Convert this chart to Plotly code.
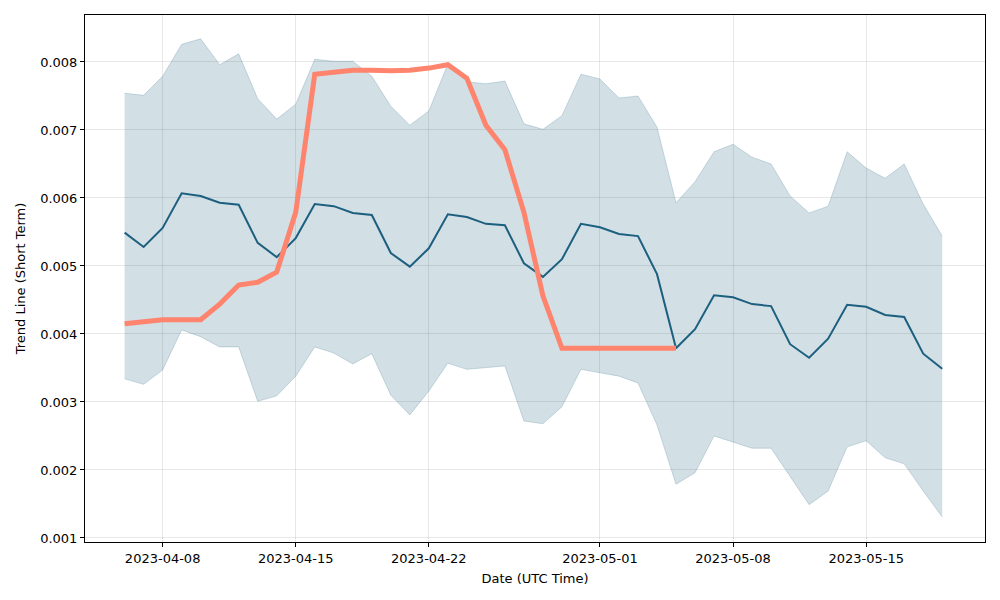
import plotly.graph_objects as go
import pandas as pd

dates = pd.date_range("2023-04-06", "2023-05-19", freq="D")

trend = [0.00549, 0.00528, 0.00556, 0.00607, 0.00603, 0.00593, 0.00590, 0.00534, 0.00513, 0.00541,
         0.00591, 0.00588, 0.00578, 0.00575, 0.00519, 0.00499, 0.00526, 0.00576, 0.00572, 0.00562,
         0.00560, 0.00504, 0.00484, 0.00510, 0.00562, 0.00557, 0.00547, 0.00544, 0.00488, 0.00379,
         0.00407, 0.00457, 0.00454, 0.00444, 0.00441, 0.00385, 0.00365, 0.00393, 0.00443, 0.00440,
         0.00428, 0.00425, 0.00371, 0.00349]

upper = [0.00754, 0.00751, 0.00779, 0.00826, 0.00834, 0.00796, 0.00812, 0.00746, 0.00716, 0.00738,
         0.00804, 0.00801, 0.00801, 0.00779, 0.00735, 0.00707, 0.00728, 0.00797, 0.00771, 0.00768,
         0.00772, 0.00709, 0.00701, 0.00721, 0.00782, 0.00775, 0.00747, 0.00750, 0.00704, 0.00593,
         0.00624, 0.00668, 0.00679, 0.00660, 0.00650, 0.00603, 0.00578, 0.00588, 0.00668, 0.00644,
         0.00629, 0.00650, 0.00591, 0.00544]

lower = [0.00334, 0.00326, 0.00347, 0.00406, 0.00396, 0.00381, 0.00381, 0.00301, 0.00309, 0.00338,
         0.00381, 0.00372, 0.00356, 0.00371, 0.00310, 0.00281, 0.00316, 0.00357, 0.00348, 0.00351,
         0.00353, 0.00272, 0.00268, 0.00293, 0.00348, 0.00343, 0.00338, 0.00328, 0.00266, 0.00179,
         0.00196, 0.00250, 0.00241, 0.00232, 0.00232, 0.00191, 0.00149, 0.00169, 0.00234, 0.00243,
         0.00218, 0.00209, 0.00169, 0.00131]

price_dates = pd.date_range("2023-04-06", "2023-05-05", freq="D")
price = [0.00415, 0.00418, 0.00421, 0.00421, 0.00421, 0.00444, 0.00472, 0.00476, 0.00491, 0.00579,
         0.00782, 0.00785, 0.00788, 0.00788, 0.00787, 0.00788, 0.00791, 0.00796, 0.00776, 0.00707,
         0.00671, 0.00579, 0.00456, 0.00379, 0.00379, 0.00379, 0.00379, 0.00379, 0.00379, 0.00379]

tick_vals = ["2023-04-08", "2023-04-15", "2023-04-22", "2023-05-01", "2023-05-08", "2023-05-15"]
y_ticks = [0.001, 0.002, 0.003, 0.004, 0.005, 0.006, 0.007, 0.008]

blue = "#1c5f7f"
fig = go.Figure()
fig.add_trace(go.Scatter(x=dates, y=upper, mode="lines", line=dict(color="rgba(28,95,127,0.2)", width=1),
                         showlegend=False, hoverinfo="skip"))
fig.add_trace(go.Scatter(x=dates, y=lower, mode="lines", line=dict(color="rgba(28,95,127,0.2)", width=1),
                         fill="tonexty", fillcolor="rgba(28,95,127,0.2)", showlegend=False, hoverinfo="skip"))
fig.add_trace(go.Scatter(x=dates, y=trend, mode="lines", line=dict(color=blue, width=2), showlegend=False))
fig.add_trace(go.Scatter(x=price_dates, y=price, mode="lines", line=dict(color="#fe846e", width=5),
                         showlegend=False))

axis_common = dict(showline=True, linecolor="black", linewidth=1, mirror=True, ticks="outside",
                   ticklen=4, tickcolor="black", showgrid=True, gridcolor="rgba(0,0,0,0.09)",
                   zeroline=False, tickfont=dict(size=13, color="black"))

fig.update_xaxes(**axis_common, tickvals=tick_vals, tickformat="%Y-%m-%d",
                 range=["2023-04-03 22:00", "2023-05-21 06:00"],
                 title=dict(text="Date (UTC Time)", font=dict(size=13, color="black"), standoff=9))
fig.update_yaxes(**axis_common, tickvals=y_ticks, tickformat=".3f",
                 range=[0.000941, 0.008691],
                 title=dict(text="Trend Line (Short Term)", font=dict(size=13, color="black"), standoff=11))

fig.update_layout(width=1000, height=600, margin=dict(l=85, r=15, t=15, b=58),
                  plot_bgcolor="white", paper_bgcolor="white",
                  font=dict(family="DejaVu Sans", size=13, color="black"))

fig.write_html("out.html")
